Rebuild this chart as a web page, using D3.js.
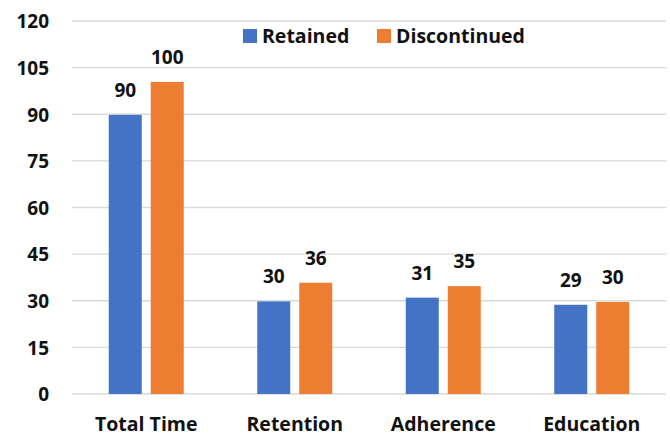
<!DOCTYPE html>
<html><head><meta charset="utf-8">
<script src="https://cdn.jsdelivr.net/npm/d3@7"></script>
<style>body{margin:0;background:#fff}</style>
</head><body>
<svg id="c" width="670" height="436"></svg>
<script>
const categories = ["Total Time", "Retention", "Adherence", "Education"];
const seriesNames = ["Retained", "Discontinued"];
const retained = [89.8, 29.8, 31.0, 28.7];
const discontinued = [100.4, 35.8, 34.7, 29.6];
const yTicks = [0, 15, 30, 45, 60, 75, 90, 105, 120];
const colors = ["#4472C4", "#ED7D31"];

const font = "'Open Sans', Lato, sans-serif";
const svg = d3.select("#c");
const m = {l: 72, r: 4, t: 21, b: 42};
const W = 670, H = 436;
const x0 = d3.scaleBand().domain(categories).range([m.l, W - m.r]).padding(0);
const y = d3.scaleLinear().domain([0, 120]).range([H - m.b, m.t]);
const bw = x0.bandwidth();
const x1 = d3.scaleBand().domain(seriesNames).range([bw / 2 - 37.5, bw / 2 + 37.5]).paddingInner(0.214).paddingOuter(0);

// gridlines
svg.append("g").selectAll("line").data(yTicks).join("line")
  .attr("x1", m.l).attr("x2", W - m.r)
  .attr("y1", d => y(d)).attr("y2", d => y(d))
  .attr("stroke", "#d9d9d9").attr("stroke-width", 1.3);

// y axis labels
const yAxis = d3.axisLeft(y).tickValues(yTicks).tickSize(0).tickPadding(0);
const ga = svg.append("g").attr("transform", `translate(49,0)`).call(yAxis);
ga.select(".domain").remove();
ga.selectAll("text").attr("font-family", font).attr("font-weight", "bold")
  .attr("font-size", 19).attr("fill", "#111").attr("dy", "0.36em");

// x axis labels
const xAxis = d3.axisBottom(x0).tickSize(0).tickPadding(0);
const gx = svg.append("g").attr("transform", `translate(0,${H - m.b})`).call(xAxis);
gx.select(".domain").remove();
gx.selectAll("text").attr("font-family", font).attr("font-weight", "bold")
  .attr("font-size", 19.5).attr("fill", "#111").attr("dy", null).attr("y", 37);

const data = categories.map((c, i) => ({cat: c, vals: [
  {s: seriesNames[0], v: retained[i], c: colors[0]},
  {s: seriesNames[1], v: discontinued[i], c: colors[1]}]}));

const groups = svg.append("g").selectAll("g").data(data).join("g")
  .attr("transform", d => `translate(${x0(d.cat)},0)`);
groups.selectAll("rect").data(d => d.vals).join("rect")
  .attr("x", d => x1(d.s)).attr("width", x1.bandwidth())
  .attr("y", d => y(d.v)).attr("height", d => y(0) - y(d.v))
  .attr("fill", d => d.c);
groups.selectAll("text").data(d => d.vals).join("text")
  .attr("x", d => x1(d.s) + x1.bandwidth() / 2)
  .attr("y", d => y(d.v) - 18)
  .attr("text-anchor", "middle")
  .attr("font-family", font).attr("font-weight", "bold").attr("font-size", 19)
  .attr("fill", "#111")
  .text(d => d3.format(".0f")(d.v));

// legend
const lg = svg.append("g");
const lx = [243, 377];
seriesNames.forEach((s, i) => {
  lg.append("rect").attr("x", lx[i]).attr("y", 29).attr("width", 14).attr("height", 14).attr("fill", colors[i]);
  lg.append("text").attr("x", lx[i] + 19).attr("y", 43)
    .attr("font-family", font).attr("font-weight", "bold").attr("font-size", 19.5)
    .attr("fill", "#111").text(s);
});
</script>
</body></html>
